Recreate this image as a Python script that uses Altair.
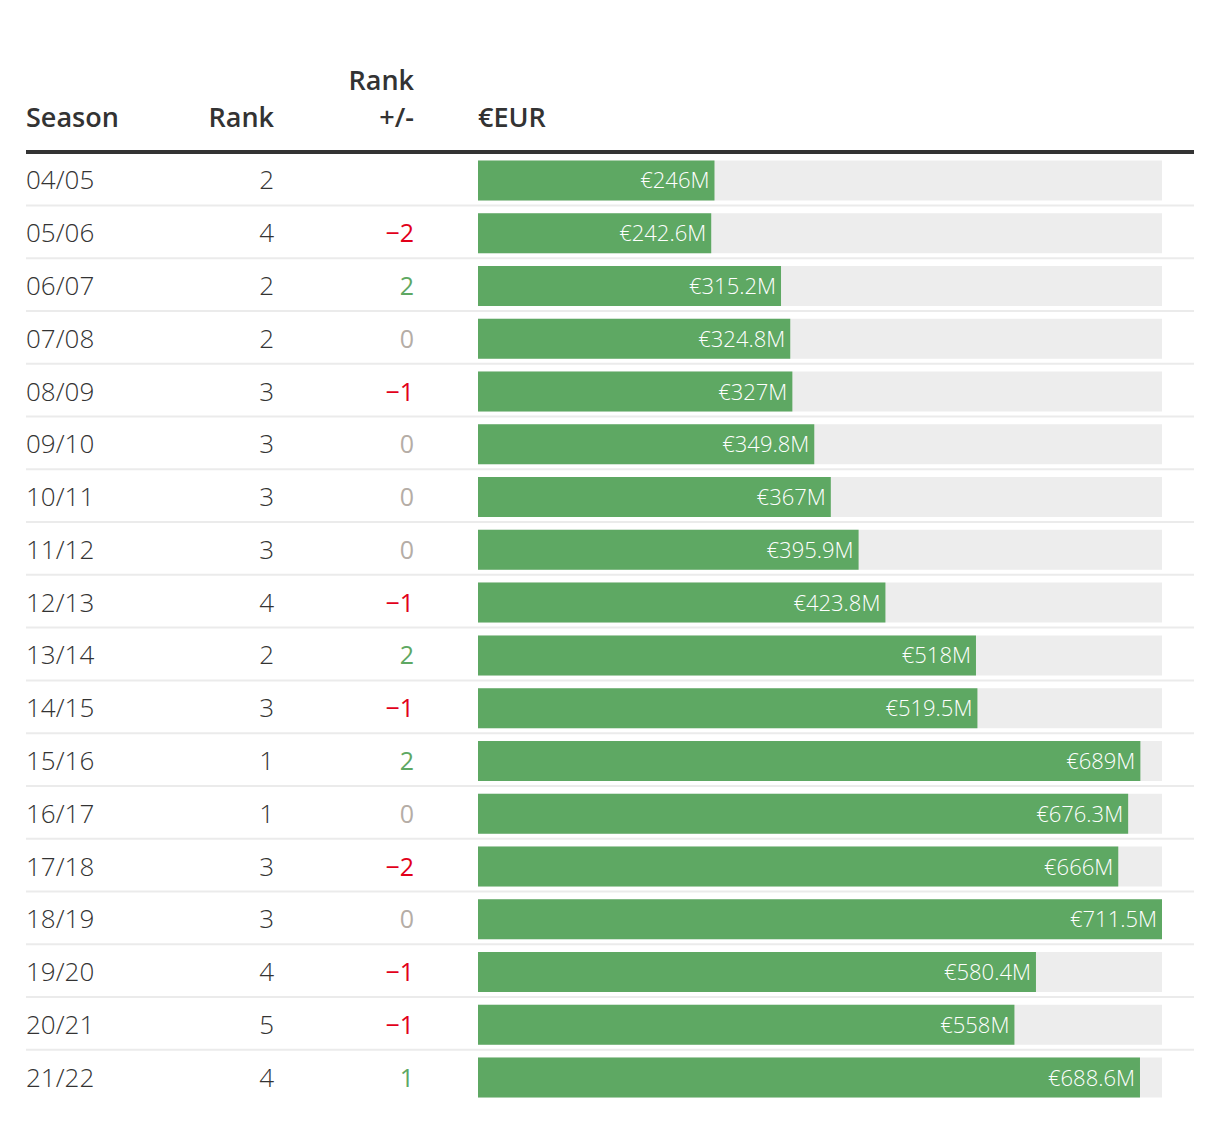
import altair as alt
import pandas as pd

seasons = ["04/05", "05/06", "06/07", "07/08", "08/09", "09/10", "10/11", "11/12", "12/13",
           "13/14", "14/15", "15/16", "16/17", "17/18", "18/19", "19/20", "20/21", "21/22"]
ranks = [2, 4, 2, 2, 3, 3, 3, 3, 4, 2, 3, 1, 1, 3, 3, 4, 5, 4]
changes = [None, -2, 2, 0, -1, 0, 0, 0, -1, 2, -1, 2, 0, -2, 0, -1, -1, 1]
values = [246, 242.6, 315.2, 324.8, 327, 349.8, 367, 395.9, 423.8,
          518, 519.5, 689, 676.3, 666, 711.5, 580.4, 558, 688.6]

W = 1168
H = 950
FONT = "Open Sans"
TXT = "#333333"


def fmt_val(v):
    s = f"{v:g}"
    return f"€{s}M"


def fmt_chg(c):
    if c is None:
        return ""
    if c < 0:
        return f"\u2212{abs(c)}"
    return f"{c}"


def chg_kind(c):
    if c is None:
        return "none"
    if c < 0:
        return "neg"
    if c > 0:
        return "pos"
    return "zero"


df = pd.DataFrame({
    "season": seasons,
    "rank": [str(r) for r in ranks],
    "chg": [fmt_chg(c) for c in changes],
    "kind": [chg_kind(c) for c in changes],
    "value": values,
    "label": [fmt_val(v) for v in values],
})
df["idx"] = range(len(df))

vmax = max(values)
yenc = alt.Y("season:N", sort=seasons, axis=None,
             scale=alt.Scale(paddingInner=0, paddingOuter=0))
xscale = alt.Scale(domain=[0, vmax], range=[452, 1136])

base = alt.Chart(df)

track = base.mark_bar(size=40, color="#ededed").encode(
    y=yenc,
    x=alt.datum(0, scale=xscale, axis=None),
    x2=alt.datum(vmax),
)

bars = base.mark_bar(size=40, color="#5ea863").encode(
    y=yenc,
    x=alt.X("value:Q", scale=xscale, axis=None),
    x2=alt.datum(0),
)

bar_labels = base.mark_text(align="right", baseline="alphabetic", dx=-5, dy=8,
                            font=FONT, fontSize=22, fontWeight=300, color="white").encode(
    y=yenc,
    x=alt.X("value:Q", scale=xscale, axis=None),
    text="label:N",
)

separators = base.transform_filter(alt.datum.idx < len(seasons) - 1).mark_rule(
    yOffset=25, strokeWidth=2, color="#ebebeb").encode(
    y=yenc, x=alt.value(0), x2=alt.value(W),
)

body = dict(baseline="alphabetic", dy=9, font=FONT, fontSize=26, fontWeight=300)

season_txt = base.mark_text(align="left", color=TXT, **body).encode(
    y=yenc, x=alt.value(0), text="season:N",
)

rank_txt = base.mark_text(align="right", color=TXT, **body).encode(
    y=yenc, x=alt.value(248), text="rank:N",
)

chg_txt = base.mark_text(align="right", baseline="alphabetic", dy=9, font=FONT,
                         fontSize=25, fontWeight=400).encode(
    y=yenc, x=alt.value(388), text="chg:N",
    color=alt.Color("kind:N", legend=None,
                    scale=alt.Scale(domain=["neg", "zero", "pos", "none"],
                                    range=["#e2001a", "#b5ada6", "#5ea863", "#ffffff"])),
)

top_rule = alt.Chart(pd.DataFrame({"a": [0]})).mark_rule(strokeWidth=4, color=TXT).encode(
    x=alt.value(0), x2=alt.value(W), y=alt.value(-2),
)

hdr_style = dict(font=FONT, fontSize=27, fontWeight=600, color=TXT, baseline="alphabetic")
one = pd.DataFrame({"a": [0]})
h_season = alt.Chart(one).mark_text(align="left", text="Season", **hdr_style).encode(
    x=alt.value(0), y=alt.value(-27))
h_rank = alt.Chart(one).mark_text(align="right", text="Rank", **hdr_style).encode(
    x=alt.value(248), y=alt.value(-27))
h_chg1 = alt.Chart(one).mark_text(align="right", text="Rank", **hdr_style).encode(
    x=alt.value(388), y=alt.value(-64))
h_chg2 = alt.Chart(one).mark_text(align="right", text="+/-", **hdr_style).encode(
    x=alt.value(388), y=alt.value(-27))
h_eur = alt.Chart(one).mark_text(align="left", text="€EUR", **hdr_style).encode(
    x=alt.value(452), y=alt.value(-27))

chart = alt.layer(
    separators, track, bars, bar_labels, season_txt, rank_txt, chg_txt,
    top_rule, h_season, h_rank, h_chg1, h_chg2, h_eur,
).properties(
    width=W, height=H,
    autosize=alt.AutoSizeParams(type="none"),
    padding={"left": 18, "top": 146, "right": 0, "bottom": 0},
).configure_view(stroke=None)

chart.save("out.html", embed_options={"renderer": "svg", "actions": False})
